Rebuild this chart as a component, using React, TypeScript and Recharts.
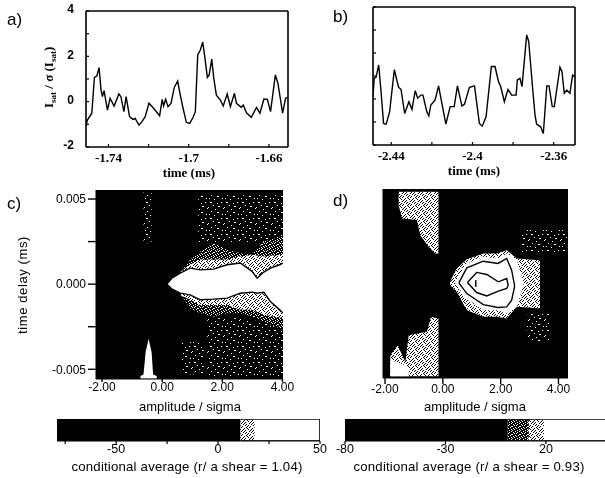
import { ComposedChart, Line, Area, Scatter, XAxis, YAxis, CartesianGrid } from 'recharts';

const SERIF = '"Liberation Serif", serif';
const SANS = '"Liberation Sans", sans-serif';

// panel a) trace
const timesA = [-1.7512, -1.7505, -1.7483, -1.747, -1.7458, -1.7447, -1.7437, -1.743, -1.7422, -1.7405, -1.7392, -1.7372, -1.7348, -1.7338, -1.7323, -1.7312, -1.7295, -1.7278, -1.7267, -1.7248, -1.7233, -1.7217, -1.7198, -1.7175, -1.7145, -1.7132, -1.7125, -1.7115, -1.7103, -1.7088, -1.7072, -1.7055, -1.7042, -1.7028, -1.7012, -1.6995, -1.6978, -1.6967, -1.6955, -1.6942, -1.693, -1.692, -1.6907, -1.6898, -1.6885, -1.6875, -1.6862, -1.6842, -1.6828, -1.6808, -1.6792, -1.6772, -1.6762, -1.6738, -1.6728, -1.6712, -1.6688, -1.6662, -1.6645, -1.6625, -1.6608, -1.6592, -1.6568, -1.6555, -1.6532, -1.6517, -1.6505];
const valuesA = [-1.07, -0.81, -0.51, 1.07, 1.13, 1.5, 0.51, 0.22, 0.49, -0.37, 0.15, -0.19, 0.34, 0.22, -0.44, 0.22, -0.66, -0.78, -0.74, -1.03, -0.88, -0.66, -0.07, -0.29, -0.62, 0.1, -0.19, 0.1, -0.22, -0.07, 0.63, 0.91, 0.29, -0.29, -0.91, -0.96, -0.69, -0.44, 2.06, 2.28, 2.63, 1.99, 1.07, 1.18, 1.88, 1.03, 0.29, 0.07, -0.19, 0.34, -0.22, 0.37, -0.07, -0.25, -0.15, -0.49, -0.69, -0.25, -0.51, 0.12, 0.1, -0.44, 1.18, 0.81, -0.51, 0.15, 0.19];

// panel b) trace
const timesB = [-2.449, -2.4484, -2.4475, -2.4462, -2.4451, -2.4438, -2.4425, -2.4408, -2.4385, -2.4364, -2.4352, -2.4334, -2.4313, -2.4298, -2.4282, -2.427, -2.4254, -2.4244, -2.4225, -2.4215, -2.4205, -2.4184, -2.4167, -2.4154, -2.4131, -2.411, -2.409, -2.4074, -2.4052, -2.4039, -2.4015, -2.399, -2.3966, -2.3952, -2.3933, -2.3907, -2.3889, -2.3872, -2.3861, -2.3843, -2.3825, -2.3807, -2.3785, -2.3779, -2.3766, -2.3756, -2.3733, -2.3723, -2.3703, -2.3692, -2.3684, -2.3664, -2.3651, -2.3634, -2.3623, -2.3607, -2.3597, -2.3569, -2.3559, -2.3548, -2.3536, -2.352, -2.3507, -2.3495];
const valuesB = [0.1, 0.9, 0.94, 1.48, 0.39, -1.06, -1.09, -0.55, 1.27, 0.51, 0.42, -0.63, -0.12, -0.45, 0.36, 0.03, 0.17, 0.17, -0.55, -0.73, -0.26, -0.04, 0.57, -0.04, -1.09, -0.33, -0.33, 0.57, -0.31, -0.22, 0.51, 0.57, -1.06, -1.18, -0.77, 1.41, 1.41, 0.76, 0.54, -0.12, 0.42, 0.17, 0.17, 0.83, 0.9, 0.54, 2.79, 2.5, 0.39, -0.7, -1.09, -1.21, -1.5, 0.57, 0.57, -0.33, -0.33, 1.38, 1.19, 0.25, 0.39, 0.25, 1.04, 0.97];

const traceYTicks = [-2, -1, 0, 1, 2, 3, 4];
const traceYLabels = [-2, 0, 2, 4];
const ticksA = [-1.74, -1.72, -1.7, -1.68, -1.66];
const labelsA = [-1.74, -1.7, -1.66];
const ticksB = [-2.44, -2.42, -2.4, -2.38, -2.36];
const labelsB = [-2.44, -2.4, -2.36];

const ampTicks = [-2, 0, 2, 4];
const delayTicks = [-0.005, -0.0025, 0, 0.0025, 0.005];
const delayLabels = [-0.005, 0, 0.005];

// panel c) contour levels, by amplitude
const coreAmpC = [0.16, 0.32, 0.6, 0.93, 1.27, 1.71, 2.16, 2.6, 2.99, 3.16, 3.38, 3.6, 3.91, 4.02];
const coreHiC = [0, 0.00035, 0.00065, 0.00094, 0.00084, 0.00088, 0.00114, 0.00124, 0.00075, 0.00035, 0.00071, 0.00094, 0.00114, 0.00124];
const coreLoC = [0, -0.00027, -0.00053, -0.00063, -0.00092, -0.00088, -0.00082, -0.00053, -0.00047, -0.00053, -0.00047, -0.00102, -0.00151, -0.00171];
const bandAmpC = [0.6, 0.93, 1.27, 1.71, 2.16, 2.6, 2.99, 3.38, 4.02];
const denseHiC = [0.00065, 0.00143, 0.00192, 0.00241, 0.00202, 0.00182, 0.00173, 0.00251, 0.0028];
const denseLoC = [-0.00053, -0.00141, -0.00171, -0.0019, -0.00171, -0.00171, -0.0019, -0.0022, -0.00269];
const rimHiC = [0.00071, 0.00114, 0.00143, 0.00143, 0.00143, 0.00163, 0.00173, 0.00163, 0.00173];
const rimLoC = [-0.00063, -0.00092, -0.00122, -0.00122, -0.00122, -0.00151, -0.00151, -0.0018, -0.002];
const sparseTopAmpC = [1.2, 2, 3, 4.02];
const sparseTopHiC = [0.0053, 0.0053, 0.0053, 0.0053];
const sparseTopLoC = [0.0024, 0.0024, 0.0024, 0.0024];
const sparseLowAmpC = [1.5, 2.5, 3.3, 4.02];
const sparseLowHiC = [-0.002, -0.002, -0.0022, -0.0027];
const sparseLowLoC = [-0.0054, -0.0054, -0.0054, -0.0054];
const streakAmpC = [-0.62, -0.35];
const streakHiC = [0.0054, 0.0054];
const streakLoC = [0.0024, 0.0024];
const spikeAmpC = [-0.72, -0.62, -0.55, -0.45, -0.35, -0.3, -0.18];
const spikeHiC = [-0.0054, -0.0053, -0.004, -0.0032, -0.004, -0.0053, -0.0054];
const spikeLoC = [-0.00555, -0.00555, -0.00555, -0.00555, -0.00555, -0.00555, -0.00555];
const patchAmpC = [0.66, 1.38];
const patchHiC = [-0.0034, -0.0034];
const patchLoC = [-0.0053, -0.0053];

// panel d) contour levels, by amplitude
const upperAmpD = [-1.53, -1.41, -0.9, -0.78, -0.49, -0.26, -0.15];
const upperHiD = [0.00539, 0.00539, 0.00539, 0.00539, 0.00539, 0.00539, 0.00539];
const upperLoD = [0.00461, 0.00382, 0.00373, 0.00284, 0.00216, 0.00176, 0.00176];
const lowerAmpD = [-1.82, -1.56, -1.3, -1.18, -0.55, -0.41, -0.15];
const lowerHiD = [-0.00422, -0.00363, -0.00461, -0.00304, -0.00284, -0.00196, -0.00206];
const lowerLoD = [-0.00545, -0.00545, -0.00545, -0.00545, -0.00545, -0.00545, -0.00545];
const baseAmpD = [-1.82, -1.3, -1.18];
const baseHiD = [-0.0045, -0.0048, -0.0052];
const baseLoD = [-0.00545, -0.00545, -0.00545];
const denseAmpD = [0.25, 0.48, 0.83, 1.4, 1.86, 2.21, 2.56, 3.36];
const denseHiD = [0.0001, 0.00088, 0.00143, 0.00176, 0.00176, 0.00196, 0.00147, 0.00137];
const denseLoD = [-0.0001, -0.00049, -0.00157, -0.00196, -0.00196, -0.00206, -0.00137, -0.00147];
const rimAmpD = [0.43, 0.83, 1.4, 1.91, 2.21, 2.56, 2.79];
const rimHiD = [0.0001, 0.00118, 0.00157, 0.00147, 0.00176, 0.00137, 0.0001];
const rimLoD = [0, -0.00088, -0.00157, -0.00157, -0.00176, -0.00137, -0.0001];
const outerAmpD = [0.57, 0.83, 1.4, 1.91, 2.21, 2.38, 2.48];
const outerHiD = [0.0001, 0.00092, 0.00131, 0.00118, 0.00147, 0.00078, -0.0001];
const outerLoD = [0, -0.00059, -0.00124, -0.00141, -0.00137, -0.00098, -0.0002];
const innerAmpD = [0.85, 1.17, 1.52, 1.92, 2.21, 2.26];
const innerHiD = [0.00006, 0.00065, 0.00053, 0.0001, 0.00029, -0.0001];
const innerLoD = [0.00006, -0.00053, -0.00073, -0.00045, -0.00029, -0.0001];
const peakAmpD = [1.14, 1.14];
const peakDelayD = [0.0002, -0.0002];
const scatterAmpD = [2.7, 4.3];
const scatterHiD = [0.0032, 0.0032];
const scatterLoD = [0.0018, 0.0018];
const scatterLowAmpD = [2.9, 3.7];
const scatterLowHiD = [-0.0018, -0.0018];
const scatterLowLoD = [-0.0034, -0.0034];

// colour bars: segment edges and fills
const edgesC = [-79, 11, 18, 49.6, 50];
const fillsC = ['#000', 'url(#barDither)', '#fff', '#000'];
const barTicksC = [-75, -50, -25, 0, 25, 50];
const barLabelsC = [-50, 0, 50];
const edgesD = [-80, 1, 11.5, 19, 49.4];
const fillsD = ['#000', 'url(#barDark)', 'url(#barDither)', '#fff'];
const barTicksD = [-80, -30, 20];

const speckDense = ['10110111', '11101101', '01111011', '11011110', '10111101', '11110110', '01101111', '11011011'];
const speckSparse = [
  '0000000000000000',
  '0011000000000100',
  '0000000001000000',
  '0000000000000000',
  '0000010000000000',
  '0000000000110000',
  '1000000000000000',
  '0000000000000001',
  '0000000100000000',
  '0000000000000000',
  '0001000000000000',
  '0000000001100000',
  '0000000000000000',
  '0100000000000010',
  '0000001000000000',
  '0000000000000000',
];
const speckDark = ['01000100', '00010001', '10100000', '00000110', '01001000', '00100001', '10000100', '00010010'];

const band = (xs: number[], lo: number[], hi: number[]) => xs.map((amp, i) => ({ amp, range: [lo[i], hi[i]] }));
const loop = (xs: number[], lo: number[], hi: number[]) => [
  ...xs.map((amp, i) => ({ amp, delay: hi[i] })),
  ...xs.map((amp, i) => ({ amp, delay: lo[i] })).reverse(),
  { amp: xs[0], delay: hi[0] },
];
const openLine = (xs: number[], ys: number[]) => xs.map((amp, i) => ({ amp, delay: ys[i] }));

const Speck = ({ id, rows, bg }: { id: string; rows: string[]; bg: string }) => {
  const dot = bg === '#fff' ? '#000' : '#fff';
  const size = rows.length;
  return (
    <pattern id={id} width={size} height={size} patternUnits="userSpaceOnUse">
      <rect width={size} height={size} fill={bg} fillOpacity={bg === 'none' ? 0 : 1} />
      {rows.map((row, y) =>
        row.split('').map((c, x) => (c === (bg === '#fff' ? '0' : '1') ? <rect key={x + '-' + y} x={x} y={y} width={1} height={1} fill={dot} /> : null)),
      )}
    </pattern>
  );
};

const Patterns = ({ p }: { p: string }) => (
  <defs>
    <Speck id={p + 'Dense'} rows={speckDense} bg="#fff" />
    <Speck id={p + 'Sparse'} rows={speckSparse} bg="none" />
    <Speck id={p + 'Dark'} rows={speckDark} bg="#000" />
  </defs>
);

const Region = (xs: number[], lo: number[], hi: number[], fill: string, key: string) => (
  <Area key={key} data={band(xs, lo, hi)} dataKey="range" type="linear" stroke="none" fill={fill} fillOpacity={1} dot={false} activeDot={false} isAnimationActive={false} />
);

const Contour = (data: { amp: number; delay: number }[], key: string) => (
  <Scatter key={key} data={data} dataKey="delay" line={{ stroke: '#000', strokeWidth: 1.4 }} shape={() => null} isAnimationActive={false} />
);

type Box = { left: number; top: number; width: number; height: number; px: number; py: number; pw: number; ph: number };
const chartStyle = (b: Box) => ({ position: 'absolute' as const, left: b.left, top: b.top });
const chartMargin = (b: Box, yw: number, xh: number, topAxis = 0, rightAxis = 0) => ({
  left: b.px - b.left - yw,
  top: b.py - b.top - topAxis,
  right: b.left + b.width - b.px - b.pw - rightAxis,
  bottom: b.top + b.height - b.py - b.ph - xh,
});

const Trace = ({ box, times, values, domain, ticks, labels, yText, xLabelX }: { box: Box; times: number[]; values: number[]; domain: number[]; ticks: number[]; labels: number[]; yText: boolean; xLabelX: number }) => {
  const rows = times.map((t, i) => ({ t, v: values[i] }));
  const axisLine = { stroke: '#000', strokeWidth: 1.6 };
  const tickLine = { stroke: '#000', strokeWidth: 1.2 };
  return (
    <ComposedChart style={chartStyle(box)} width={box.width} height={box.height} data={rows} margin={chartMargin(box, 40, 36, 1, 1)}>
      <XAxis dataKey="t" type="number" domain={domain} allowDataOverflow ticks={ticks} height={36} interval={0}
        tickFormatter={(v: number) => (labels.some((l) => Math.abs(l - v) < 1e-6) ? String(v) : '')}
        axisLine={axisLine} tickLine={tickLine} tickSize={-3} tickMargin={9}
        tick={{ fontFamily: SERIF, fontSize: 13, fill: '#000', fontWeight: 700 }} />
      <XAxis xAxisId="top" dataKey="t" type="number" orientation="top" domain={domain} allowDataOverflow ticks={ticks} height={1} tick={false} axisLine={axisLine} tickLine={tickLine} tickSize={-3} />
      <YAxis type="number" domain={[-2, 4]} allowDataOverflow ticks={traceYTicks} width={40} interval={0}
        tickFormatter={(v: number) => (yText && traceYLabels.includes(v) ? String(v) : '')}
        axisLine={axisLine} tickLine={tickLine} tickSize={-3} tickMargin={15}
        tick={{ fontFamily: SANS, fontSize: 12, fill: '#000', fontWeight: 700, dy: -2 }} />
      <YAxis yAxisId="right" type="number" orientation="right" domain={[-2, 4]} allowDataOverflow ticks={traceYTicks} width={1} tick={false} axisLine={axisLine} tickLine={tickLine} tickSize={-3} />
      <Line dataKey="v" xAxisId="top" yAxisId="right" type="linear" stroke="none" dot={false} activeDot={false} isAnimationActive={false} />
      <Line dataKey="v" type="linear" stroke="#000" strokeWidth={1.4} dot={false} activeDot={false} isAnimationActive={false} />
      <text x={xLabelX} y={box.py - box.top + box.ph + 30} textAnchor="middle" fontFamily={SERIF} fontSize={13} fontWeight={700}>time (ms)</text>
    </ComposedChart>
  );
};

const HeatFrame = ({ box, id, amp, delay, delayText, xTick, children }: { box: Box; id: string; amp: number[]; delay: number[]; delayText: boolean; xTick: number; children: any }) => (
  <ComposedChart style={chartStyle(box)} width={box.width} height={box.height} margin={chartMargin(box, 50, 20)}>
    <Patterns p={id} />
    <CartesianGrid horizontal={false} vertical={false} fill="#000" fillOpacity={1} />
    <XAxis dataKey="amp" type="number" domain={amp} allowDataOverflow ticks={ampTicks} height={20} interval={0}
      tickFormatter={(v: number) => v.toFixed(2)}
      axisLine={{ stroke: '#000' }} tickLine={{ stroke: '#000', strokeWidth: 1.4 }} tickSize={xTick} tickMargin={0}
      tick={{ fontFamily: SANS, fontSize: 12, fill: '#000' }} />
    <YAxis type="number" domain={delay} allowDataOverflow ticks={delayText ? delayTicks : []} width={50} interval={0}
      tickFormatter={(v: number) => (delayLabels.includes(v) ? v.toFixed(3) : '')}
      axisLine={{ stroke: '#000' }} tickLine={{ stroke: '#000', strokeWidth: 1.4 }} tickSize={8} tickMargin={2}
      tick={{ fontFamily: SANS, fontSize: 12, fill: '#000' }} />
    {children}
  </ComposedChart>
);

const ColourBar = ({ box, edges, fills, ticks, labels, title, titleX }: { box: Box; edges: number[]; fills: string[]; ticks: number[]; labels: number[]; title: string; titleX: number }) => (
  <ComposedChart style={chartStyle(box)} width={box.width} height={box.height} margin={chartMargin(box, 0, 16)}>
    <defs>
      <Speck id="barDither" rows={speckDense} bg="#fff" />
      <Speck id="barDark" rows={speckDark} bg="#000" />
    </defs>
    <XAxis dataKey="v" type="number" domain={[edges[0], edges[edges.length - 1]]} allowDataOverflow ticks={ticks} height={16} interval={0}
      tickFormatter={(v: number) => (labels.includes(v) ? String(v) : '')}
      axisLine={{ stroke: '#000' }} tickLine={{ stroke: '#000', strokeWidth: 1.2 }} tickSize={3} tickMargin={0}
      tick={{ fontFamily: SANS, fontSize: 12.5, fill: '#000' }} />
    <YAxis type="number" domain={[0, 1]} allowDataOverflow width={0} tick={false} axisLine={false} tickLine={false} />
    {fills.map((fill, i) => (
      <Area key={i} data={[{ v: edges[i], level: [0, 1] }, { v: edges[i + 1], level: [0, 1] }]} dataKey="level" type="linear" stroke="#000" strokeWidth={1.5} fill={fill} fillOpacity={1} dot={false} activeDot={false} isAnimationActive={false} />
    ))}
    <text x={titleX} y={56} textAnchor="middle" fontFamily={SANS} fontSize={13.2} letterSpacing={0.2}>{title}</text>
  </ComposedChart>
);

const letter = (left: number, top: number, text: string) => (
  <div style={{ position: 'absolute', left, top, fontFamily: SANS, fontSize: 17, lineHeight: '20px', color: '#000' }}>{text}</div>
);

const boxA: Box = { left: 0, top: 0, width: 300, height: 185, px: 86, py: 11, pw: 202, ph: 136 };
const boxB: Box = { left: 305, top: 0, width: 290, height: 185, px: 373, py: 7, pw: 202, ph: 138 };
const boxC: Box = { left: 0, top: 185, width: 295, height: 212, px: 96, py: 190, pw: 187, ph: 189 };
const boxD: Box = { left: 305, top: 185, width: 290, height: 212, px: 383, py: 189, pw: 185, ph: 189 };
const barC: Box = { left: 40, top: 415, width: 300, height: 63, px: 57, py: 419, pw: 263, ph: 22 };
const barD: Box = { left: 330, top: 415, width: 275, height: 63, px: 345, py: 419, pw: 260, ph: 22 };

export default function App() {
  return (
    <div style={{ position: 'absolute', left: 0, top: 0, width: 605, height: 478, overflow: 'hidden', background: '#fff', filter: 'blur(0.35px)' }}>
      {letter(7, 10, 'a)')}
      {letter(333, 7, 'b)')}
      {letter(7, 194, 'c)')}
      {letter(333, 191, 'd)')}

      <Trace box={boxA} times={timesA} values={valuesA} domain={[-1.7512, -1.6505]} ticks={ticksA} labels={labelsA} yText xLabelX={189} />
      <Trace box={boxB} times={timesB} values={valuesB} domain={[-2.449, -2.3495]} ticks={ticksB} labels={labelsB} yText={false} xLabelX={169} />

      <svg style={{ position: 'absolute', left: 0, top: 0 }} width={70} height={160}>
        <text transform="translate(53,108) rotate(-90)" fontFamily={SERIF} fontSize={13} fontWeight={700}>
          I<tspan fontSize={9} dy={3}>sat</tspan><tspan dy={-3}> / σ (I</tspan><tspan fontSize={9} dy={3}>sat</tspan><tspan dy={-3}>)</tspan>
        </text>
      </svg>
      <svg style={{ position: 'absolute', left: 0, top: 200 }} width={40} height={170}>
        <text transform="translate(27,85) rotate(-90)" textAnchor="middle" fontFamily={SANS} fontSize={13} letterSpacing={0.6}>time delay  (ms)</text>
      </svg>

      <HeatFrame box={boxC} id="c" amp={[-2.2, 4.02]} delay={[-0.00557, 0.00553]} delayText xTick={3}>
        {Region(sparseTopAmpC, sparseTopLoC, sparseTopHiC, 'url(#cSparse)', 'sparseTop')}
        {Region(sparseLowAmpC, sparseLowLoC, sparseLowHiC, 'url(#cSparse)', 'sparseLow')}
        {Region(streakAmpC, streakLoC, streakHiC, 'url(#cSparse)', 'streak')}
        {Region(patchAmpC, patchLoC, patchHiC, 'url(#cSparse)', 'patch')}
        {Region(spikeAmpC, spikeLoC, spikeHiC, '#fff', 'spike')}
        {Region(bandAmpC, denseLoC, denseHiC, 'url(#cDark)', 'dense')}
        {Region(bandAmpC, rimLoC, rimHiC, 'url(#cDense)', 'rim')}
        {Region(coreAmpC, coreLoC, coreHiC, '#fff', 'core')}
        {Contour(openLine(coreAmpC, coreHiC), 'coreUp')}
        {Contour(openLine(coreAmpC, coreLoC), 'coreDown')}
      </HeatFrame>

      <HeatFrame box={boxD} id="d" amp={[-2.07, 4.33]} delay={[-0.00555, 0.00555]} delayText={false} xTick={6}>
        {Region(scatterAmpD, scatterLoD, scatterHiD, 'url(#dSparse)', 'sparseUp')}
        {Region(scatterLowAmpD, scatterLowLoD, scatterLowHiD, 'url(#dSparse)', 'sparseDown')}
        {Region(upperAmpD, upperLoD, upperHiD, 'url(#dDense)', 'upper')}
        {Region(lowerAmpD, lowerLoD, lowerHiD, 'url(#dDense)', 'lower')}
        {Region(baseAmpD, baseLoD, baseHiD, '#fff', 'base')}
        {Region(denseAmpD, denseLoD, denseHiD, 'url(#dDense)', 'dense')}
        {Region(rimAmpD, rimLoD, rimHiD, '#fff', 'rim')}
        {Contour(loop(outerAmpD, outerLoD, outerHiD), 'outer')}
        {Contour(loop(innerAmpD, innerLoD, innerHiD), 'inner')}
        {Contour(openLine(peakAmpD, peakDelayD), 'peak')}
      </HeatFrame>

      <div style={{ position: 'absolute', left: 139, top: 399, width: 100, textAlign: 'center', whiteSpace: 'nowrap', fontFamily: SANS, fontSize: 13, lineHeight: '16px' }}>amplitude / sigma</div>
      <div style={{ position: 'absolute', left: 424, top: 399, width: 100, textAlign: 'center', whiteSpace: 'nowrap', fontFamily: SANS, fontSize: 13, lineHeight: '16px' }}>amplitude / sigma</div>

      <ColourBar box={barC} edges={edgesC} fills={fillsC} ticks={barTicksC} labels={barLabelsC} title="conditional average (r/ a shear = 1.04)" titleX={147} />
      <ColourBar box={barD} edges={edgesD} fills={fillsD} ticks={barTicksD} labels={barTicksD} title="conditional average (r/ a shear = 0.93)" titleX={139} />
    </div>
  );
}
